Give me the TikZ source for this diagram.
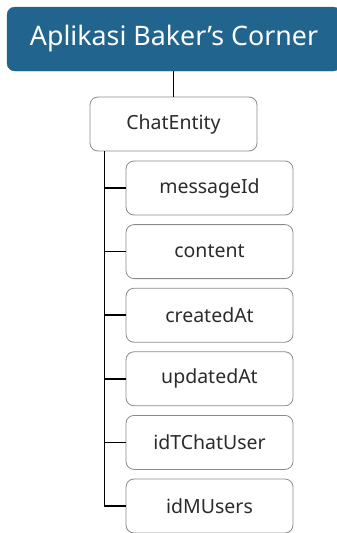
\documentclass[tikz,border=0pt]{standalone}
\usepackage{fontspec}
\setmainfont{Noto Sans}
\usepackage{tikz}
\usetikzlibrary{positioning}

\definecolor{titleblue}{HTML}{21658E}
\definecolor{boxgray}{HTML}{8A8A8A}
\definecolor{textgray}{HTML}{2B2B2B}

\tikzset{
	titlebox/.style = {fill = titleblue, draw = titleblue, rounded corners = 8pt,
		minimum width = 334pt, minimum height = 64pt, text = white,
		font = \fontsize{26.8}{30}\selectfont},
	fieldbox/.style = {draw = boxgray, line width = 0.8pt, rounded corners = 8pt,
		minimum width = 167pt, minimum height = 54pt, text = textgray,
		font = \fontsize{19.5}{23}\selectfont},
	conn/.style = {draw = black, line width = 1.5pt}
}

\begin{document}
\begin{tikzpicture}[x = 1pt, y = -1pt]
			\def\xINDENT{15};
			\def\xFIELD{209.5};
			\def\ySTEP{63.6};

			\useasboundingbox (0,0) rectangle (337,533);

			\begin{scope}
				\node [titlebox] (app) at (174,39) {Aplikasi Baker’s Corner};
				\node [fieldbox] (entity) at (173.5,124) {ChatEntity};

				\draw [conn] (app.south -| entity.north) -- (entity.north);
			\end{scope}

			\begin{scope}
				\foreach \name/\txt [count = \i] in {messageid/messageId, content/content,
					createdat/createdAt, updatedat/updatedAt, idtchatuser/idTChatUser, idmusers/idMUsers}
				{
					\node [fieldbox] (\name) at (\xFIELD, 188 + \ySTEP*\i - \ySTEP) {\txt};
					\draw [conn] (entity.south west) ++(\xINDENT,0) |- (\name.west);
				}
			\end{scope}
		\end{tikzpicture}
\end{document}
